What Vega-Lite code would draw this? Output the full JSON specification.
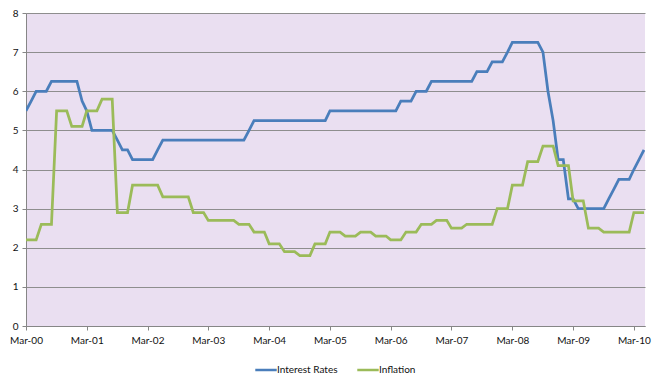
{
  "$schema": "https://vega.github.io/schema/vega-lite/v6.json",
  "autosize": {"type": "none"},
  "width": 619,
  "height": 313,
  "padding": {"left": 26, "top": 13, "right": 17, "bottom": 65},
  "background": "#ffffff",
  "config": {
    "view": {"fill": "#EADFF1", "stroke": null},
    "font": "Lato",
    "axis": {
      "labelFont": "Lato",
      "labelFontSize": 10,
      "labelColor": "#111111",
      "domainColor": "#868686",
      "tickColor": "#868686",
      "gridColor": "#8E8E8E",
      "gridWidth": 1,
      "tickSize": 4,
      "title": null
    },
    "legend": {"labelFont": "Lato", "labelFontSize": 10, "labelColor": "#111111"}
  },
  "data": {
    "values": [
      {"d": "2000-03-01", "Interest Rates": 5.5, "Inflation": 2.2},
      {"d": "2000-04-01", "Interest Rates": 5.75, "Inflation": 2.2},
      {"d": "2000-05-01", "Interest Rates": 6, "Inflation": 2.2},
      {"d": "2000-06-01", "Interest Rates": 6, "Inflation": 2.6},
      {"d": "2000-07-01", "Interest Rates": 6, "Inflation": 2.6},
      {"d": "2000-08-01", "Interest Rates": 6.25, "Inflation": 2.6},
      {"d": "2000-09-01", "Interest Rates": 6.25, "Inflation": 5.5},
      {"d": "2000-10-01", "Interest Rates": 6.25, "Inflation": 5.5},
      {"d": "2000-11-01", "Interest Rates": 6.25, "Inflation": 5.5},
      {"d": "2000-12-01", "Interest Rates": 6.25, "Inflation": 5.1},
      {"d": "2001-01-01", "Interest Rates": 6.25, "Inflation": 5.1},
      {"d": "2001-02-01", "Interest Rates": 5.75, "Inflation": 5.1},
      {"d": "2001-03-01", "Interest Rates": 5.5, "Inflation": 5.5},
      {"d": "2001-04-01", "Interest Rates": 5, "Inflation": 5.5},
      {"d": "2001-05-01", "Interest Rates": 5, "Inflation": 5.5},
      {"d": "2001-06-01", "Interest Rates": 5, "Inflation": 5.8},
      {"d": "2001-07-01", "Interest Rates": 5, "Inflation": 5.8},
      {"d": "2001-08-01", "Interest Rates": 5, "Inflation": 5.8},
      {"d": "2001-09-01", "Interest Rates": 4.75, "Inflation": 2.9},
      {"d": "2001-10-01", "Interest Rates": 4.5, "Inflation": 2.9},
      {"d": "2001-11-01", "Interest Rates": 4.5, "Inflation": 2.9},
      {"d": "2001-12-01", "Interest Rates": 4.25, "Inflation": 3.6},
      {"d": "2002-01-01", "Interest Rates": 4.25, "Inflation": 3.6},
      {"d": "2002-02-01", "Interest Rates": 4.25, "Inflation": 3.6},
      {"d": "2002-03-01", "Interest Rates": 4.25, "Inflation": 3.6},
      {"d": "2002-04-01", "Interest Rates": 4.25, "Inflation": 3.6},
      {"d": "2002-05-01", "Interest Rates": 4.5, "Inflation": 3.6},
      {"d": "2002-06-01", "Interest Rates": 4.75, "Inflation": 3.3},
      {"d": "2002-07-01", "Interest Rates": 4.75, "Inflation": 3.3},
      {"d": "2002-08-01", "Interest Rates": 4.75, "Inflation": 3.3},
      {"d": "2002-09-01", "Interest Rates": 4.75, "Inflation": 3.3},
      {"d": "2002-10-01", "Interest Rates": 4.75, "Inflation": 3.3},
      {"d": "2002-11-01", "Interest Rates": 4.75, "Inflation": 3.3},
      {"d": "2002-12-01", "Interest Rates": 4.75, "Inflation": 2.9},
      {"d": "2003-01-01", "Interest Rates": 4.75, "Inflation": 2.9},
      {"d": "2003-02-01", "Interest Rates": 4.75, "Inflation": 2.9},
      {"d": "2003-03-01", "Interest Rates": 4.75, "Inflation": 2.7},
      {"d": "2003-04-01", "Interest Rates": 4.75, "Inflation": 2.7},
      {"d": "2003-05-01", "Interest Rates": 4.75, "Inflation": 2.7},
      {"d": "2003-06-01", "Interest Rates": 4.75, "Inflation": 2.7},
      {"d": "2003-07-01", "Interest Rates": 4.75, "Inflation": 2.7},
      {"d": "2003-08-01", "Interest Rates": 4.75, "Inflation": 2.7},
      {"d": "2003-09-01", "Interest Rates": 4.75, "Inflation": 2.6},
      {"d": "2003-10-01", "Interest Rates": 4.75, "Inflation": 2.6},
      {"d": "2003-11-01", "Interest Rates": 5, "Inflation": 2.6},
      {"d": "2003-12-01", "Interest Rates": 5.25, "Inflation": 2.4},
      {"d": "2004-01-01", "Interest Rates": 5.25, "Inflation": 2.4},
      {"d": "2004-02-01", "Interest Rates": 5.25, "Inflation": 2.4},
      {"d": "2004-03-01", "Interest Rates": 5.25, "Inflation": 2.1},
      {"d": "2004-04-01", "Interest Rates": 5.25, "Inflation": 2.1},
      {"d": "2004-05-01", "Interest Rates": 5.25, "Inflation": 2.1},
      {"d": "2004-06-01", "Interest Rates": 5.25, "Inflation": 1.9},
      {"d": "2004-07-01", "Interest Rates": 5.25, "Inflation": 1.9},
      {"d": "2004-08-01", "Interest Rates": 5.25, "Inflation": 1.9},
      {"d": "2004-09-01", "Interest Rates": 5.25, "Inflation": 1.8},
      {"d": "2004-10-01", "Interest Rates": 5.25, "Inflation": 1.8},
      {"d": "2004-11-01", "Interest Rates": 5.25, "Inflation": 1.8},
      {"d": "2004-12-01", "Interest Rates": 5.25, "Inflation": 2.1},
      {"d": "2005-01-01", "Interest Rates": 5.25, "Inflation": 2.1},
      {"d": "2005-02-01", "Interest Rates": 5.25, "Inflation": 2.1},
      {"d": "2005-03-01", "Interest Rates": 5.5, "Inflation": 2.4},
      {"d": "2005-04-01", "Interest Rates": 5.5, "Inflation": 2.4},
      {"d": "2005-05-01", "Interest Rates": 5.5, "Inflation": 2.4},
      {"d": "2005-06-01", "Interest Rates": 5.5, "Inflation": 2.3},
      {"d": "2005-07-01", "Interest Rates": 5.5, "Inflation": 2.3},
      {"d": "2005-08-01", "Interest Rates": 5.5, "Inflation": 2.3},
      {"d": "2005-09-01", "Interest Rates": 5.5, "Inflation": 2.4},
      {"d": "2005-10-01", "Interest Rates": 5.5, "Inflation": 2.4},
      {"d": "2005-11-01", "Interest Rates": 5.5, "Inflation": 2.4},
      {"d": "2005-12-01", "Interest Rates": 5.5, "Inflation": 2.3},
      {"d": "2006-01-01", "Interest Rates": 5.5, "Inflation": 2.3},
      {"d": "2006-02-01", "Interest Rates": 5.5, "Inflation": 2.3},
      {"d": "2006-03-01", "Interest Rates": 5.5, "Inflation": 2.2},
      {"d": "2006-04-01", "Interest Rates": 5.5, "Inflation": 2.2},
      {"d": "2006-05-01", "Interest Rates": 5.75, "Inflation": 2.2},
      {"d": "2006-06-01", "Interest Rates": 5.75, "Inflation": 2.4},
      {"d": "2006-07-01", "Interest Rates": 5.75, "Inflation": 2.4},
      {"d": "2006-08-01", "Interest Rates": 6, "Inflation": 2.4},
      {"d": "2006-09-01", "Interest Rates": 6, "Inflation": 2.6},
      {"d": "2006-10-01", "Interest Rates": 6, "Inflation": 2.6},
      {"d": "2006-11-01", "Interest Rates": 6.25, "Inflation": 2.6},
      {"d": "2006-12-01", "Interest Rates": 6.25, "Inflation": 2.7},
      {"d": "2007-01-01", "Interest Rates": 6.25, "Inflation": 2.7},
      {"d": "2007-02-01", "Interest Rates": 6.25, "Inflation": 2.7},
      {"d": "2007-03-01", "Interest Rates": 6.25, "Inflation": 2.5},
      {"d": "2007-04-01", "Interest Rates": 6.25, "Inflation": 2.5},
      {"d": "2007-05-01", "Interest Rates": 6.25, "Inflation": 2.5},
      {"d": "2007-06-01", "Interest Rates": 6.25, "Inflation": 2.6},
      {"d": "2007-07-01", "Interest Rates": 6.25, "Inflation": 2.6},
      {"d": "2007-08-01", "Interest Rates": 6.5, "Inflation": 2.6},
      {"d": "2007-09-01", "Interest Rates": 6.5, "Inflation": 2.6},
      {"d": "2007-10-01", "Interest Rates": 6.5, "Inflation": 2.6},
      {"d": "2007-11-01", "Interest Rates": 6.75, "Inflation": 2.6},
      {"d": "2007-12-01", "Interest Rates": 6.75, "Inflation": 3.0},
      {"d": "2008-01-01", "Interest Rates": 6.75, "Inflation": 3.0},
      {"d": "2008-02-01", "Interest Rates": 7, "Inflation": 3.0},
      {"d": "2008-03-01", "Interest Rates": 7.25, "Inflation": 3.6},
      {"d": "2008-04-01", "Interest Rates": 7.25, "Inflation": 3.6},
      {"d": "2008-05-01", "Interest Rates": 7.25, "Inflation": 3.6},
      {"d": "2008-06-01", "Interest Rates": 7.25, "Inflation": 4.2},
      {"d": "2008-07-01", "Interest Rates": 7.25, "Inflation": 4.2},
      {"d": "2008-08-01", "Interest Rates": 7.25, "Inflation": 4.2},
      {"d": "2008-09-01", "Interest Rates": 7, "Inflation": 4.6},
      {"d": "2008-10-01", "Interest Rates": 6, "Inflation": 4.6},
      {"d": "2008-11-01", "Interest Rates": 5.25, "Inflation": 4.6},
      {"d": "2008-12-01", "Interest Rates": 4.25, "Inflation": 4.1},
      {"d": "2009-01-01", "Interest Rates": 4.25, "Inflation": 4.1},
      {"d": "2009-02-01", "Interest Rates": 3.25, "Inflation": 4.1},
      {"d": "2009-03-01", "Interest Rates": 3.25, "Inflation": 3.2},
      {"d": "2009-04-01", "Interest Rates": 3, "Inflation": 3.2},
      {"d": "2009-05-01", "Interest Rates": 3, "Inflation": 3.2},
      {"d": "2009-06-01", "Interest Rates": 3, "Inflation": 2.5},
      {"d": "2009-07-01", "Interest Rates": 3, "Inflation": 2.5},
      {"d": "2009-08-01", "Interest Rates": 3, "Inflation": 2.5},
      {"d": "2009-09-01", "Interest Rates": 3, "Inflation": 2.4},
      {"d": "2009-10-01", "Interest Rates": 3.25, "Inflation": 2.4},
      {"d": "2009-11-01", "Interest Rates": 3.5, "Inflation": 2.4},
      {"d": "2009-12-01", "Interest Rates": 3.75, "Inflation": 2.4},
      {"d": "2010-01-01", "Interest Rates": 3.75, "Inflation": 2.4},
      {"d": "2010-02-01", "Interest Rates": 3.75, "Inflation": 2.4},
      {"d": "2010-03-01", "Interest Rates": 4, "Inflation": 2.9},
      {"d": "2010-04-01", "Interest Rates": 4.25, "Inflation": 2.9},
      {"d": "2010-05-01", "Interest Rates": 4.5, "Inflation": 2.9}
    ]
  },
  "transform": [{"fold": ["Interest Rates", "Inflation"], "as": ["series", "value"]}],
  "mark": {"type": "line", "strokeWidth": 2.75, "strokeJoin": "miter", "clip": true},
  "encoding": {
    "x": {
      "field": "d",
      "type": "temporal",
      "scale": {
        "type": "utc",
        "domain": [
          {"year": 2000, "month": 3, "date": 1, "utc": true},
          {"year": 2010, "month": 5, "date": 7, "utc": true}
        ]
      },
      "axis": {
        "format": "%b-%y",
        "grid": false,
        "labelPadding": 5,
        "labelFlush": false,
        "labelOverlap": false,
        "values": [
          {"year": 2000, "month": 3, "date": 1, "utc": true},
          {"year": 2001, "month": 3, "date": 1, "utc": true},
          {"year": 2002, "month": 3, "date": 1, "utc": true},
          {"year": 2003, "month": 3, "date": 1, "utc": true},
          {"year": 2004, "month": 3, "date": 1, "utc": true},
          {"year": 2005, "month": 3, "date": 1, "utc": true},
          {"year": 2006, "month": 3, "date": 1, "utc": true},
          {"year": 2007, "month": 3, "date": 1, "utc": true},
          {"year": 2008, "month": 3, "date": 1, "utc": true},
          {"year": 2009, "month": 3, "date": 1, "utc": true},
          {"year": 2010, "month": 3, "date": 1, "utc": true}
        ]
      }
    },
    "y": {
      "field": "value",
      "type": "quantitative",
      "scale": {"domain": [0, 8], "nice": false},
      "axis": {"values": [0, 1, 2, 3, 4, 5, 6, 7, 8], "format": "d", "labelPadding": 4}
    },
    "color": {
      "field": "series",
      "type": "nominal",
      "sort": ["Interest Rates", "Inflation"],
      "scale": {"domain": ["Interest Rates", "Inflation"], "range": ["#4A7EBB", "#9BBB59"]},
      "legend": {
        "title": null,
        "orient": "none",
        "direction": "horizontal",
        "legendX": 228,
        "legendY": 345,
        "symbolType": "stroke",
        "symbolSize": 460,
        "symbolStrokeWidth": 2.5,
        "labelOffset": -1,
        "columnPadding": 14
      }
    }
  }
}
